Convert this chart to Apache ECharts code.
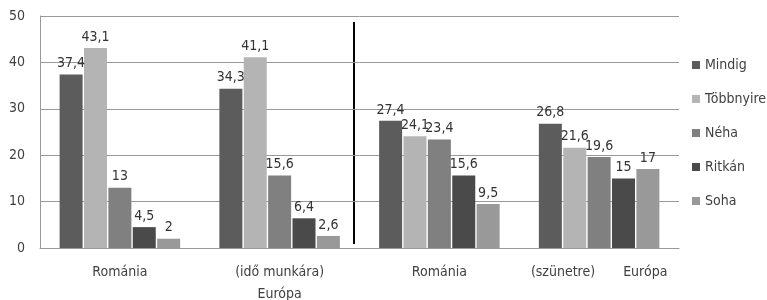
<!DOCTYPE html>
<html>
<head>
<meta charset="utf-8">
<script src="https://cdn.jsdelivr.net/npm/echarts@6/dist/echarts.min.js"></script>
<style>
  html, body { margin: 0; padding: 0; background: #fff; }
  #mychart { width: 767px; height: 300px; }
</style>
</head>
<body>
<div id="mychart"></div>
<script>
var categories = ['Románia', '(idő munkára)\nEurópa', 'Románia', '(szünetre)       Európa'];
var seriesNames = ['Mindig', 'Többnyire', 'Néha', 'Ritkán', 'Soha'];
var mindig = [37.4, 34.3, 27.4, 26.8];
var tobbnyire = [43.1, 41.1, 24.1, 21.6];
var neha = [13, 15.6, 23.4, 19.6];
var ritkan = [4.5, 6.4, 15.6, 15];
var soha = [2, 2.6, 9.5, 17];
var colors = ['#5c5c5c', '#b4b4b4', '#808080', '#4a4a4a', '#999999'];

var font = '"Liberation Sans Narrow", "DejaVu Sans Condensed", sans-serif';
var values = [mindig, tobbnyire, neha, ritkan, soha];

var dom = document.getElementById("mychart");
var myChart = echarts.init(dom);

var series = seriesNames.map(function (name, i) {
    return {
        name: name,
        type: 'bar',
        barWidth: 23,
        barGap: '6%',
        itemStyle: { color: colors[i] },
        label: {
            show: true,
            position: 'top',
            distance: 4,
            color: '#333',
            fontFamily: font,
            fontSize: 14,
            formatter: function (p) { return String(p.value).replace('.', ','); }
        },
        data: values[i]
    };
});

var option = {
    animation: false,
    grid: { left: 40, right: 88, top: 16, bottom: 52, containLabel: false, outerBoundsMode: 'none' },
    legend: {
        orient: 'vertical',
        left: 687,
        top: 53,
        itemWidth: 8,
        itemHeight: 8,
        itemGap: 20,
        icon: 'rect',
        textStyle: { fontFamily: font, fontSize: 14, color: '#404040' },
        data: seriesNames
    },
    xAxis: {
        type: 'category',
        data: categories,
        axisTick: { show: false },
        axisLine: { lineStyle: { color: '#999' } },
        axisLabel: {
            margin: 13,
            fontFamily: font,
            fontSize: 14,
            lineHeight: 22,
            color: '#404040',
            interval: 0
        }
    },
    yAxis: {
        type: 'value',
        min: 0,
        max: 50,
        interval: 10,
        axisLine: { show: true, lineStyle: { color: '#999' } },
        splitLine: { lineStyle: { color: '#999' } },
        axisLabel: { margin: 15, fontFamily: font, fontSize: 14, color: '#404040' }
    },
    graphic: [{
        type: 'line',
        shape: { x1: 354, y1: 22, x2: 354, y2: 244 },
        style: { stroke: '#000', lineWidth: 2 }
    }],
    series: series
};

if (option && typeof option === 'object') {
    myChart.setOption(option);
}
</script>
</body>
</html>
